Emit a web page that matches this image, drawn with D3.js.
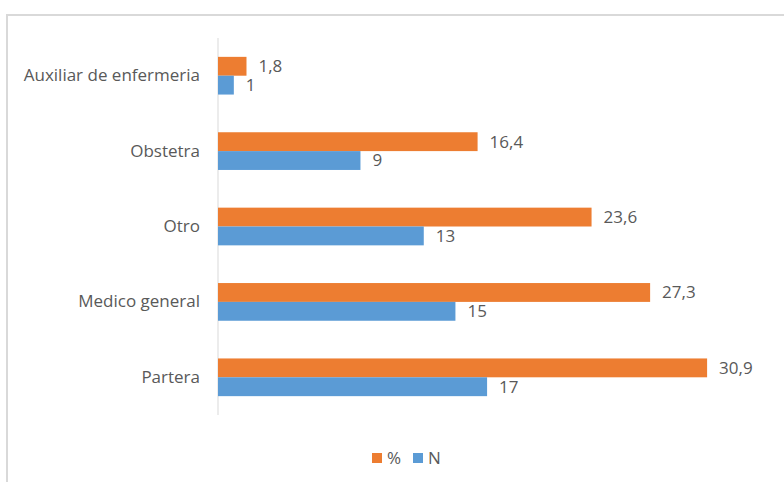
<!DOCTYPE html>
<html>
<head>
<meta charset="utf-8">
<script src="https://cdn.jsdelivr.net/npm/d3@7"></script>
<style>
  html, body { margin: 0; padding: 0; background: #fff; }
  svg { display: block; }
</style>
</head>
<body>
<svg id="chart" width="784" height="482"></svg>
<script>
// Categories, top to bottom
const categories = ["Auxiliar de enfermeria", "Obstetra", "Otro", "Medico general", "Partera"];
// Series values
const pctValues = [1.8, 16.4, 23.6, 27.3, 30.9];
const nValues = [1, 9, 13, 15, 17];
const seriesNames = ["%", "N"];
const seriesColors = ["#ED7D31", "#5B9BD5"];

const svg = d3.select("#chart");
const font = "'Open Sans', sans-serif";
const fontSize = 17;
const textColor = "#595959";

// Outer frame
svg.append("rect")
  .attr("x", 7).attr("y", 15)
  .attr("width", 800).attr("height", 500)
  .attr("fill", "none")
  .attr("stroke", "#d9d9d9")
  .attr("stroke-width", 2);

const x = d3.scaleLinear().domain([0, 35]).range([218, 772]);
const y = d3.scaleBand().domain(categories).range([38, 415])
  .paddingInner(0.5).paddingOuter(0.25);
const ySub = d3.scaleBand().domain(seriesNames).range([0, y.bandwidth()]);

// Category axis line
svg.append("line")
  .attr("x1", x(0)).attr("x2", x(0))
  .attr("y1", 38).attr("y2", 415)
  .attr("stroke", "#d9d9d9").attr("stroke-width", 1);

// Category labels
const yAxis = d3.axisLeft(y).tickSize(0).tickPadding(0);
const gAxis = svg.append("g")
  .attr("transform", `translate(${x(0) - 18},0)`)
  .call(yAxis);
gAxis.select(".domain").remove();
gAxis.selectAll("text")
  .attr("font-family", font)
  .attr("font-size", fontSize)
  .attr("fill", textColor);

const rows = categories.map((c, i) => ({
  cat: c,
  vals: [
    { s: seriesNames[0], v: pctValues[i], color: seriesColors[0] },
    { s: seriesNames[1], v: nValues[i], color: seriesColors[1] }
  ]
}));

const groups = svg.selectAll("g.cat")
  .data(rows).enter().append("g")
  .attr("class", "cat")
  .attr("transform", d => `translate(0,${y(d.cat)})`);

groups.selectAll("rect")
  .data(d => d.vals).enter().append("rect")
  .attr("x", x(0))
  .attr("y", d => ySub(d.s))
  .attr("width", d => x(d.v) - x(0))
  .attr("height", ySub.bandwidth())
  .attr("fill", d => d.color);

const fmt = v => String(v).replace(".", ",");
groups.selectAll("text.val")
  .data(d => d.vals).enter().append("text")
  .attr("class", "val")
  .attr("x", d => x(d.v) + 12)
  .attr("y", d => ySub(d.s) + ySub.bandwidth() / 2)
  .attr("dy", "0.35em")
  .attr("font-family", font)
  .attr("font-size", fontSize)
  .attr("fill", textColor)
  .text(d => fmt(d.v));

// Legend
const legend = svg.append("g").attr("transform", "translate(372,453)");
const legendX = [0, 41];
seriesNames.forEach((s, i) => {
  const g = legend.append("g").attr("transform", `translate(${legendX[i]},0)`);
  g.append("rect").attr("width", 10).attr("height", 10).attr("fill", seriesColors[i]);
  g.append("text")
    .attr("x", 15).attr("y", 5).attr("dy", "0.35em")
    .attr("font-family", font).attr("font-size", fontSize)
    .attr("fill", textColor)
    .text(s);
});
</script>
</body>
</html>
